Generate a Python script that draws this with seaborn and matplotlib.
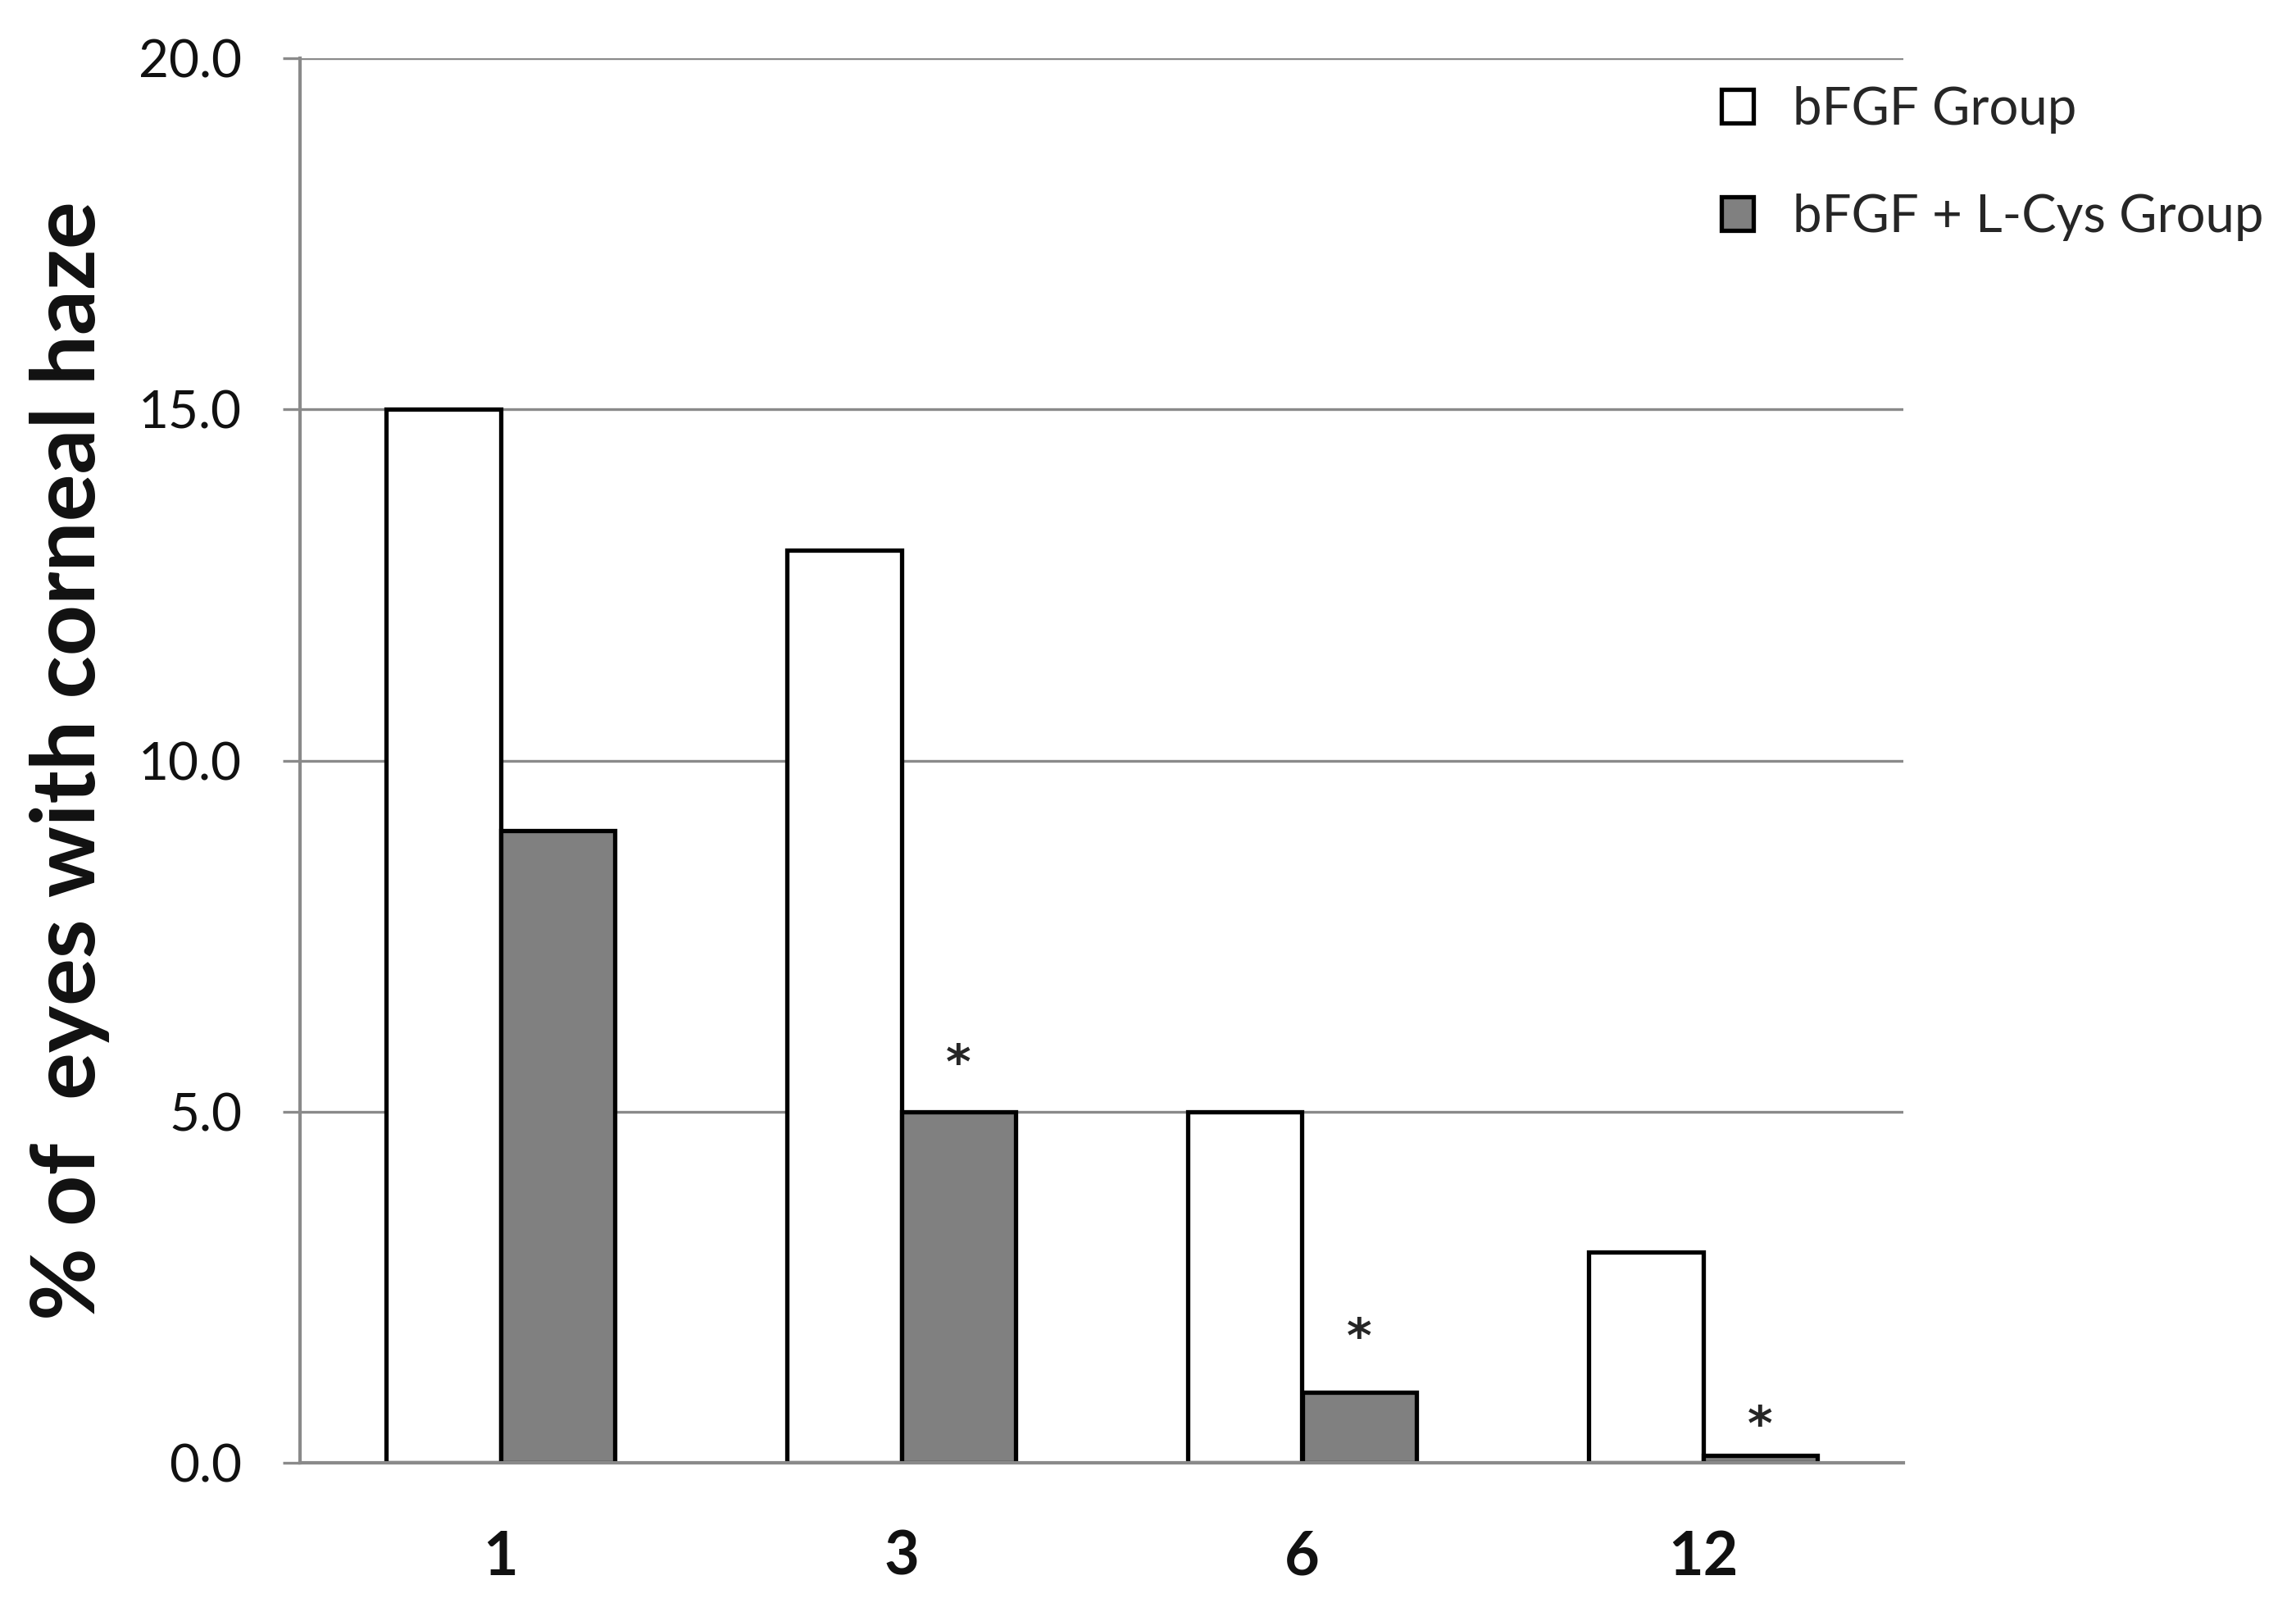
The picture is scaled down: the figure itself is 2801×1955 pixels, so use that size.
import matplotlib
matplotlib.use("Agg")
import matplotlib.pyplot as plt
import seaborn as sns
import pandas as pd
from matplotlib.patches import Patch

# ---- data ----
months = ["1", "3", "6", "12"]
bfgf = [15.0, 13.0, 5.0, 3.0]
bfgf_lcys = [9.0, 5.0, 1.0, 0.1]
group_names = ["bFGF Group", "bFGF + L-Cys Group"]
y_ticks = [0.0, 5.0, 10.0, 15.0, 20.0]
sig_months = ["3", "6", "12"]
sig_levels = [5.8, 1.9, 0.65]
y_label = "% of  eyes with corneal haze"

df = pd.DataFrame({
    "month": months * 2,
    "value": bfgf + bfgf_lcys,
    "group": [group_names[0]] * len(months) + [group_names[1]] * len(months),
})

sns.set_theme(style="white")
plt.rcParams["font.family"] = ["Lato", "DejaVu Sans"]

W, H = 2801, 1955
fig = plt.figure(figsize=(W / 100, H / 100), dpi=100)
ax = fig.add_axes([366 / W, 1 - 1784 / H, (2322 - 366) / W, (1784 - 71) / H])

palette = {group_names[0]: "white", group_names[1]: "#808080"}
bar_width = 0.57
sns.barplot(data=df, x="month", y="value", hue="group", order=months,
            hue_order=group_names, palette=palette, width=bar_width, gap=0,
            edgecolor="black", linewidth=3.8, saturation=1, legend=False, ax=ax)

grid_col = "#8a8a8a"
ax.set_ylim(0, 20)
ax.set_xlim(-0.5, len(months) - 0.5)
ax.set_yticks(y_ticks)
ax.set_yticklabels([f"{t:.1f}" for t in y_ticks])
ax.set_axisbelow(True)
ax.yaxis.grid(True, color=grid_col, linewidth=2.4)
ax.xaxis.grid(False)

for s in ["top", "right"]:
    ax.spines[s].set_visible(False)
for s in ["left", "bottom"]:
    ax.spines[s].set_color(grid_col)
    ax.spines[s].set_linewidth(3)

ax.tick_params(axis="y", left=True, length=15, width=2.4, color=grid_col,
               direction="out", pad=36, labelsize=46, labelcolor="#111111")
ax.tick_params(axis="x", bottom=False, length=0, pad=58, labelsize=53,
               labelcolor="#111111")
for lab in ax.get_xticklabels():
    lab.set_fontweight("bold")

ax.set_xlabel("")
ax.set_ylabel(y_label, fontsize=78, fontweight="bold", color="#111111")
ax.yaxis.set_label_coords(-0.1185, 0.5)

# significance asterisks above the L-Cys bars
offset = bar_width / 4
for m, lvl in zip(sig_months, sig_levels):
    ax.annotate("*", xy=(months.index(m) + offset, lvl), xytext=(0, -8),
                textcoords="offset points", ha="center", va="center",
                fontsize=42, fontweight="bold", color="#262626",
                family="DejaVu Sans")

handles = [Patch(facecolor=palette[g], edgecolor="black", linewidth=3.8)
           for g in group_names]
ax.legend(handles, group_names, loc="upper left",
          bbox_to_anchor=(2100 / W, 1 - 105 / H), bbox_transform=fig.transFigure,
          frameon=False, fontsize=45.7, handlelength=0.62, handleheight=0.62,
          handletextpad=0.75, labelspacing=1.15, borderpad=0, borderaxespad=0)

fig.savefig("out.png", dpi=100)
